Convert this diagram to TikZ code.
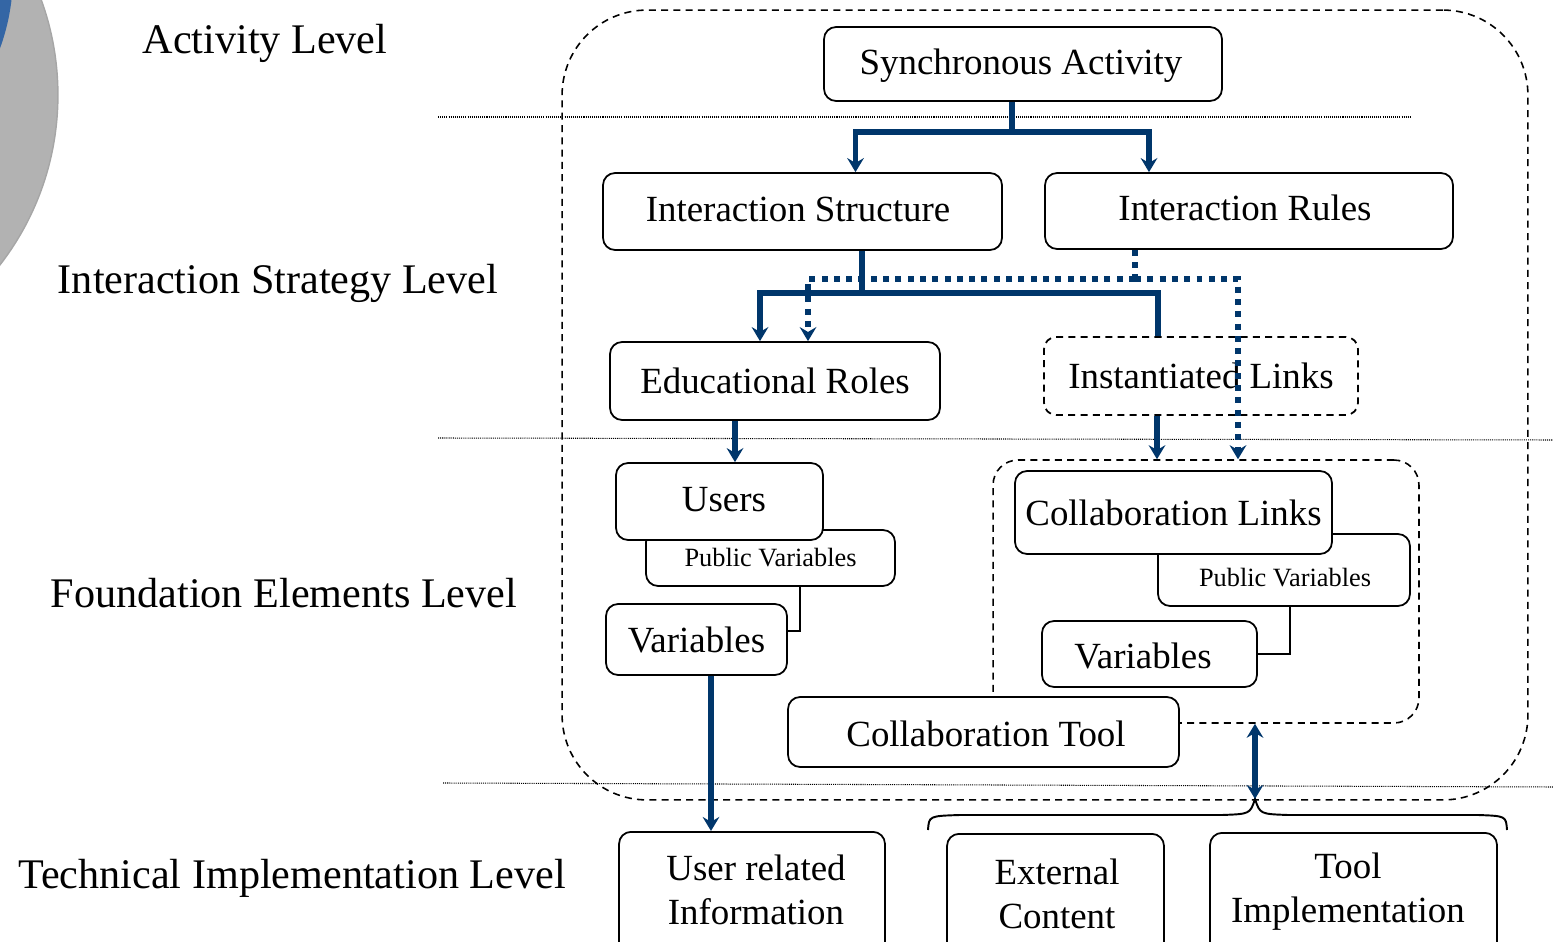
\documentclass[tikz,border=0pt]{standalone}
\usepackage{fontspec}
\setmainfont{Liberation Serif}
\usetikzlibrary{arrows.meta,calc}
\definecolor{navy}{RGB}{0,54,107}
\definecolor{circgray}{RGB}{178,178,178}
\definecolor{circblue}{RGB}{52,102,165}
\begin{document}
\begin{tikzpicture}[x=0.02cm,y=-0.02cm,
  >={Stealth[length=8pt,width=9.5pt,inset=2.8pt]},
  box/.style={draw, line width=1pt, rounded corners=0.24cm, fill=white, inner sep=0pt, font=\fontsize{21}{25}\selectfont},
  btext/.style={font=\fontsize{21}{25}\selectfont, align=center, inner sep=0pt},
  lvl/.style={font=\fontsize{24}{28}\selectfont, inner sep=0pt},
  small/.style={font=\fontsize{15}{18}\selectfont, inner sep=0pt},
  dashbox/.style={draw, line width=0.9pt, dash pattern=on 4pt off 3pt, inner sep=0pt},
  fineline/.style={line width=0.6pt, dash pattern=on 0.6pt off 0.6pt},
  thinc/.style={line width=1pt},
  bl/.style={navy, line width=3.2pt},
  bld/.style={navy, line width=3.4pt, dash pattern=on 3.4pt off 3.6pt}]
\useasboundingbox (0,0) rectangle (1553,942);
\begin{scope}
  \clip (0,0) rectangle (1553,942);
  \fill[circgray] (-220,95) circle[radius=5.56cm];
  \begin{scope}
    \clip (-220,95) circle[radius=5.56cm];
    \fill[circblue] (-200,-25) circle[radius=4.26cm];
  \end{scope}
  \draw[gray!70, line width=0.8pt] (-220,95) circle[radius=5.56cm];
\end{scope}

% level labels
\node[lvl] (l1) at (265,43) {Activity Level};
\node[lvl] (l2) at (278,283) {Interaction Strategy Level};
\node[lvl] (l3) at (284,593) {Foundation Elements Level};
\node[lvl] (l4) at (292,878) {Technical Implementation Level};

% fine separators
\draw[fineline] (438,117) -- (1410,117);
\draw[fineline] (438,438) -- (1553,440);
\draw[fineline] (443,783) -- (1553,787);

% containers
\node[dashbox, rounded corners=1.7cm, minimum width=19.32cm, minimum height=15.8cm] (act) at (1045,405) {};
\node[dashbox, rounded corners=0.5cm, minimum width=8.52cm, minimum height=5.26cm] (collab) at (1206,591.5) {};

% boxes
\node[box, minimum width=7.96cm, minimum height=1.48cm] (sync) at (1023,64) {};
\node[btext] (synct) at (1021,66) {Synchronous Activity};
\node[box, minimum width=7.98cm, minimum height=1.54cm] (is) at (802.5,211.5) {};
\node[btext] (ist) at (798,209) {Interaction Structure};
\node[box, minimum width=8.16cm, minimum height=1.52cm] (ir) at (1249,211) {};
\node[btext] (irt) at (1245,208) {Interaction Rules};
\node[box, minimum width=6.6cm, minimum height=1.56cm] (er) at (775,381) {Educational Roles};
\node[box, dash pattern=on 4pt off 3pt, minimum width=6.28cm, minimum height=1.56cm] (il) at (1201,376) {Instantiated Links};

\node[box, minimum width=4.98cm, minimum height=1.12cm, font=\fontsize{15}{18}\selectfont] (pvl) at (770.5,558) {Public Variables};
\node[box, minimum width=4.14cm, minimum height=1.54cm] (users) at (719.5,501.5) {};
\node[btext] (userst) at (724,500) {Users};
\node[box, minimum width=3.62cm, minimum height=1.42cm] (varl) at (696.5,639.5) {Variables};
\draw[thinc] ($(pvl.south)+(29.5,0)$) |- ($(varl.east)+(0,-8.5)$);

\node[box, minimum width=5.04cm, minimum height=1.44cm] (pvr) at (1284,570) {};
\node[small] (pvrt) at (1285,578) {Public Variables};
\node[box, minimum width=6.34cm, minimum height=1.66cm] (cl) at (1173.5,512.5) {Collaboration Links};
\node[box, minimum width=4.3cm, minimum height=1.32cm] (varr) at (1149.5,654) {};
\node[btext] (varrt) at (1143,656) {Variables};
\draw[thinc] ($(pvr.south)+(6,0)$) |- (varr.east);

\node[box, minimum width=7.82cm, minimum height=1.4cm] (ct) at (983.5,732) {};
\node[btext] (ctt) at (986,734) {Collaboration Tool};

% bottom boxes
\node[box, anchor=north, minimum width=5.32cm, minimum height=2.6cm] (uri) at (752,831) {};
\node[btext] (urit) at (756,890) {User related\\Information};
\node[box, anchor=north, minimum width=4.34cm, minimum height=2.6cm] (ec) at (1055.5,833) {};
\node[btext] (ect) at (1057,894) {External\\Content};
\node[box, anchor=north, minimum width=5.74cm, minimum height=2.6cm] (ti) at (1353.5,832) {};
\node[btext] (tit) at (1348,892) {Tool\\Implementation};

% brace
\draw[line width=1.1pt] (928,830) .. controls (929,816) .. (960,815) -- (1222,815)
  .. controls (1250,814) .. (1255,799) .. controls (1260,814) .. (1288,815)
  -- (1478,815) .. controls (1506,816) .. (1507,830);
\coordinate (btip) at (1255,799);

% blue connectors
\coordinate (j1) at (1012,132);
\draw[bl] (sync.south -| j1) -- (j1);
\draw[bl,->] (j1) -| ($(is.north)+(53,0)$);
\draw[bl,->] (j1) -| ($(ir.north)+(-100,0)$);

\coordinate (j2) at (862,293);
\draw[bl] (is.south -| j2) -- (j2);
\draw[bl,->] (j2) -| ($(er.north)+(-15,0)$);
\draw[bl] (j2) -| ($(il.north)+(-43,0)$);
\draw[bl,->] ($(il.south)+(-44,0)$) coordinate (t1) -- (t1 |- collab.north);

\coordinate (j3) at (1135,279);
\draw[bld] (ir.south -| j3) -- (j3);
\draw[bld,->] (j3) -| ($(er.north)+(33,0)$);
\draw[bld,->] (j3) -| ($(collab.north)+(32,0)$);

\draw[bl,->] ($(er.south)+(-40,0)$) coordinate (t2) -- (t2 |- users.north);
\draw[bl,->] ($(varl.south)+(14.5,0)$) coordinate (t3) -- (t3 |- uri.north);
\draw[bl,<->] (btip) -- (btip |- collab.south);
\end{tikzpicture}
\end{document}
